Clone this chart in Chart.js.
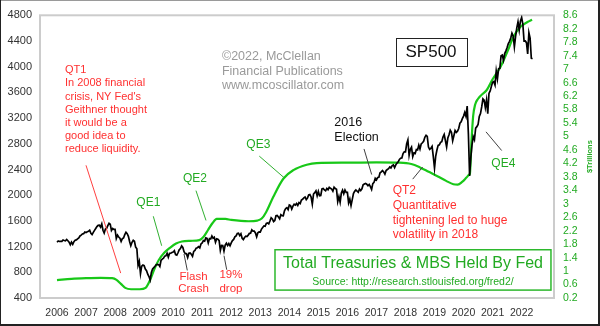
<!DOCTYPE html>
<html><head><meta charset="utf-8">
<script src="https://cdn.jsdelivr.net/npm/chart.js@4"></script>
<style>html,body{margin:0;padding:0;background:#fff;overflow:hidden}canvas{display:block}</style>
</head><body>
<canvas id="c" width="600" height="326"></canvas>
<script>
// ---- DATA ----
// S&P 500, half-month samples: [Jan1, midJan, Feb1, midFeb, ... , Dec1, midDec]
const spxYears = [2006,2007,2008,2009,2010,2011,2012,2013,2014,2015,2016,2017,2018,2019,2020,2021,2022];
const spx2006 = [1268,1287,1280,1280,1281,1303,1295,1290,1311,1291,1270,1230,1270,1236,1277,1298,1304,1320,1336,1366,1378,1396,1401,1427];
const spx2007 = [1418,1431,1438,1456,1407,1387,1421,1452,1482,1512,1531,1533,1503,1553,1455,1411,1474,1484,1527,1562,1549,1452,1481,1467];
const spx2008 = [1468,1326,1379,1349,1331,1280,1323,1334,1386,1423,1400,1360,1280,1214,1267,1298,1283,1192,1166,907,969,780,896,913];
const spx2009 = [903,850,826,770,735,680,798,852,873,893,919,923,919,890,987,1005,1021,1052,1057,1096,1036,1094,1096,1107];
const spx2010 = [1115,1136,1074,1066,1104,1150,1169,1211,1187,1120,1089,1090,1031,1096,1102,1080,1049,1125,1141,1176,1183,1199,1181,1242];
const spx2011 = [1258,1293,1286,1336,1327,1256,1326,1319,1364,1330,1345,1268,1321,1316,1292,1140,1219,1216,1131,1224,1253,1216,1247,1212];
const spx2012 = [1258,1293,1312,1351,1366,1403,1408,1370,1398,1330,1310,1342,1362,1357,1379,1405,1407,1461,1441,1441,1412,1353,1416,1430];
const spx2013 = [1426,1472,1498,1520,1515,1560,1569,1553,1598,1650,1631,1590,1606,1680,1686,1662,1633,1697,1682,1680,1757,1791,1806,1775];
const spx2014 = [1848,1839,1783,1830,1859,1846,1872,1842,1884,1870,1924,1937,1960,1973,1931,1955,2003,2011,1972,1862,2018,2040,2068,1990];
const spx2015 = [2059,1992,1995,2097,2105,2081,2068,2106,2086,2123,2107,2096,2063,2124,2104,2092,1900,1978,1890,2033,2079,2023,2080,2043];
const spx2016 = [2044,1880,1940,1840,1932,2027,2060,2082,2065,2047,2097,2071,2099,2161,2174,2184,2171,2147,2168,2132,2090,2180,2199,2262];
const spx2017 = [2239,2275,2279,2349,2364,2385,2363,2329,2384,2400,2412,2438,2423,2459,2470,2428,2472,2500,2519,2557,2575,2580,2648,2675];
const spx2018 = [2674,2800,2860,2620,2714,2748,2600,2657,2648,2711,2705,2779,2718,2798,2816,2840,2902,2931,2914,2750,2712,2730,2760,2600];
const spx2019 = [2420,2610,2704,2775,2784,2822,2834,2906,2946,2850,2752,2890,2942,3013,2980,2847,2926,3007,2977,2996,3038,3120,3141,3191];
const spx2020 = [3231,3289,3226,3386,2954,2300,2585,2783,2912,2864,3044,3067,3100,3226,3271,3373,3500,3480,3363,3483,3270,3585,3622,3694];
const spx2021 = [3756,3768,3714,3934,3811,3968,3973,4170,4181,4100,4204,4247,4298,4360,4395,4448,4523,4480,4308,4471,4605,4700,4567,4710];
const spx2022 = [4766,4662,4400,4401,4374,4200,4530,4446,4132,4123];
const spxByYear = [spx2006,spx2007,spx2008,spx2009,spx2010,spx2011,spx2012,spx2013,spx2014,spx2015,spx2016,spx2017,spx2018,spx2019,spx2020,spx2021,spx2022];

// Total Treasuries & MBS held by Fed ($ trillions)
const fedDates = [2006.0,2006.5,2007.0,2007.5,2007.9,2008.05,2008.2,2008.35,2008.55,2008.85,2009.05,2009.2,2009.35,2009.5,2009.7,2009.9,2010.1,2010.3,2010.6,2010.9,2011.05,2011.2,2011.35,2011.5,2011.8,2012.0,2012.6,2012.9,2013.05,2013.2,2013.45,2013.8,2014.14,2014.6,2014.94,2016.0,2017.0,2017.8,2018.2,2018.5,2018.8,2019.1,2019.4,2019.65,2019.8,2019.95,2020.1,2020.2,2020.22,2020.27,2020.33,2020.4,2020.5,2020.6,2020.8,2021.0,2021.28,2021.5,2021.72,2021.95,2022.2,2022.36];
const fedTrillions = [0.73,0.77,0.79,0.80,0.79,0.74,0.62,0.50,0.46,0.46,0.50,0.72,1.05,1.32,1.55,1.70,1.82,1.88,1.90,1.92,2.02,2.22,2.42,2.55,2.55,2.52,2.48,2.50,2.56,2.75,3.21,3.75,4.00,4.16,4.21,4.22,4.23,4.22,4.18,4.08,3.95,3.82,3.68,3.58,3.57,3.65,3.78,3.87,3.90,4.80,5.60,5.95,6.12,6.22,6.38,6.70,7.08,7.50,7.96,8.25,8.40,8.47];

// Tick labels
const yearTicks = [2006,2007,2008,2009,2010,2011,2012,2013,2014,2015,2016,2017,2018,2019,2020,2021,2022];
const spxTicks = [400,800,1200,1600,2000,2400,2800,3200,3600,4000,4400,4800];
const fedTicks = [0.2,0.6,1.0,1.4,1.8,2.2,2.6,3.0,3.4,3.8,4.2,4.6,5.0,5.4,5.8,6.2,6.6,7.0,7.4,7.8,8.2,8.6];

// ---- build points ----
const spxPoints = [];
spxByYear.forEach((arr, yi) => arr.forEach((v, i) => spxPoints.push({x: spxYears[yi] + i / 24, y: v})));
const fedPoints = fedDates.map((d, i) => ({x: d, y: fedTrillions[i]}));

// ---- annotations (anchored in data units) ----
const FONT = '"Liberation Sans", Arial, sans-serif';
const RED = '#ff3030', GRN = '#22aa22', DARK = '#404040';
const notes = [
  {at:[2011.68,4156], lines:['©2022, McClellan','Financial Publications','www.mcoscillator.com'], color:'#9a9a9a', size:12.5, lh:14.5, align:'left'},
  {at:[2006.275,3946], lines:['QT1','In 2008 financial','crisis, NY Fed\'s','Geithner thought','it would be a','good idea to','reduce liquidity.'], color:RED, size:11, lh:13.17, align:'left'},
  {at:[2009.144,1879], lines:['QE1'], color:GRN, size:12, lh:14, align:'center'},
  {at:[2010.752,2260], lines:['QE2'], color:GRN, size:12, lh:14, align:'center'},
  {at:[2012.932,2787], lines:['QE3'], color:GRN, size:12, lh:14, align:'center'},
  {at:[2010.70,727], lines:['Flash','Crash'], color:RED, size:11.5, lh:11.8, align:'center'},
  {at:[2011.99,753], lines:['19%','drop'], color:RED, size:11.5, lh:13.3, align:'center'},
  {at:[2015.55,3129], lines:['2016','Election'], color:'#111', size:12.5, lh:14.7, align:'left'},
  {at:[2017.56,2067], lines:['QT2','Quantitative','tightening led to huge','volatility in 2018'], color:RED, size:12, lh:14.7, align:'left'},
  {at:[2021.37,2490], lines:['QE4'], color:GRN, size:12, lh:14, align:'center'},
];
const pointers = [
  {from:[2006.999,2465], to:[2008.193,788], color:'#ff4040'},
  {from:[2009.316,1672], to:[2009.605,1213], color:'#30b030'},
  {from:[2010.786,2071], to:[2011.131,1607], color:'#30b030'},
  {from:[2012.966,2608], to:[2013.827,2270], color:'#30b030'},
  {from:[2010.373,1085], to:[2010.487,829], color:DARK},
  {from:[2011.751,1059], to:[2011.844,840], color:DARK},
  {from:[2016.572,2720], to:[2016.837,2321], color:DARK},
  {from:[2018.249,2250], to:[2018.593,2439], color:DARK},
  {from:[2021.313,2695], to:[2020.773,2986], color:DARK},
];
const spBox = {center:[2018.88,4233], w:71, h:28, text:'SP500', size:17};
const fedBox = {tl:[2013.507,1151], br:[2023.01,523], title:'Total Treasuries & MBS Held By Fed', titleAt:[2018.26,932], source:'Source: http://research.stlouisfed.org/fred2/', sourceAt:[2018.26,650]};

const annot = {
  id: 'annot',
  beforeDraw(chart) {
    const c = chart.ctx; c.save(); c.fillStyle = '#fff'; c.fillRect(0,0,chart.width,chart.height); c.restore();
  },
  beforeDatasetsDraw(chart) {
    const c = chart.ctx, a = chart.chartArea;
    c.save(); c.strokeStyle = '#cccccc'; c.lineWidth = 2;
    c.strokeRect(a.left, a.top, a.right - a.left, a.bottom - a.top);
    c.restore();
  },
  afterDatasetsDraw(chart) {
    const c = chart.ctx, X = chart.scales.x, Y = chart.scales.y;
    const px = p => [X.getPixelForValue(p[0]), Y.getPixelForValue(p[1])];
    c.save();
    c.lineWidth = 1;
    pointers.forEach(p => {
      const a = px(p.from), b = px(p.to);
      c.strokeStyle = p.color; c.beginPath(); c.moveTo(a[0], a[1]); c.lineTo(b[0], b[1]); c.stroke();
    });
    c.textBaseline = 'middle';
    notes.forEach(n => {
      const p = px(n.at);
      c.font = n.size + 'px ' + FONT; c.fillStyle = n.color; c.textAlign = n.align;
      n.lines.forEach((t, i) => c.fillText(t, p[0], p[1] + i * n.lh));
    });
    // SP500 box
    const sc = px(spBox.center);
    c.fillStyle = '#fff'; c.fillRect(sc[0]-spBox.w/2, sc[1]-spBox.h/2, spBox.w, spBox.h);
    c.strokeStyle = '#222'; c.lineWidth = 1;
    c.strokeRect(Math.round(sc[0]-spBox.w/2)+0.5, Math.round(sc[1]-spBox.h/2)+0.5, spBox.w, spBox.h);
    c.fillStyle = '#111'; c.textAlign = 'center'; c.font = spBox.size + 'px ' + FONT;
    c.fillText(spBox.text, sc[0], sc[1] + 1);
    // Fed box
    const tl = px(fedBox.tl), br = px(fedBox.br);
    c.fillStyle = '#fff'; c.fillRect(tl[0], tl[1], br[0]-tl[0], br[1]-tl[1]);
    c.strokeStyle = '#2cb82c'; c.lineWidth = 1.5;
    c.strokeRect(tl[0], tl[1], br[0]-tl[0], br[1]-tl[1]);
    const tp = px(fedBox.titleAt), sp = px(fedBox.sourceAt);
    c.fillStyle = GRN; c.font = '16px ' + FONT; c.fillText(fedBox.title, tp[0], tp[1]);
    c.font = '10.5px ' + FONT; c.fillText(fedBox.source, sp[0], sp[1]);
    c.restore();
  },
  afterDraw(chart) {
    const c = chart.ctx, a = chart.chartArea;
    c.save();
    // right axis title
    c.translate(590, (a.top + a.bottom) / 2);
    c.rotate(-Math.PI / 2);
    c.fillStyle = GRN; c.font = '700 7.5px ' + FONT; c.textAlign = 'center'; c.textBaseline = 'middle';
    c.fillText('$Trillions', 0, 0);
    c.restore();
    // outer frame
    c.save();
    c.fillStyle = '#9a9a9a'; c.fillRect(0, 0, chart.width, 1);
    c.fillStyle = '#222'; c.fillRect(0, 0, 1, chart.height);
    c.fillRect(chart.width - 2, 0, 2, chart.height);
    c.fillRect(0, chart.height - 2, chart.width, 2);
    c.restore();
  }
};

const tickFont = s => ({family: FONT, size: s});
new Chart(document.getElementById('c'), {
  type: 'line',
  data: {
    datasets: [
      {label:'SP500', data: spxPoints, yAxisID:'y', borderColor:'#000', borderWidth:1.7, pointRadius:0, tension:0, fill:false},
      {label:'Fed', data: fedPoints, yAxisID:'y2', borderColor:'#18c818', borderWidth:2.2, pointRadius:0, cubicInterpolationMode:'monotone', fill:false}
    ]
  },
  options: {
    responsive:false, animation:false, devicePixelRatio:1,
    layout:{padding:{top:11, left:0, right:0, bottom:0}},
    plugins:{legend:{display:false}, tooltip:{enabled:false}},
    scales:{
      x:{type:'linear', min:2005.4146, max:2023.1146,
         afterBuildTicks: s => { s.ticks = yearTicks.map(v => ({value:v})); },
         afterFit: s => { s.height = 28; },
         grid:{display:false, drawTicks:false}, border:{display:false},
         ticks:{font:tickFont(10.5), color:'#333', padding:9, maxRotation:0, autoSkip:false, callback: v => String(v)}},
      y:{position:'left', min:400, max:4800,
         afterBuildTicks: s => { s.ticks = spxTicks.map(v => ({value:v})); },
         afterFit: s => { s.width = 40; },
         grid:{display:false, drawTicks:false}, border:{display:false},
         ticks:{font:tickFont(11), color:'#333', padding:8, autoSkip:false, callback: v => String(v)}},
      y2:{position:'right', min:0.2, max:8.6,
         afterBuildTicks: s => { s.ticks = fedTicks.map(v => ({value:v})); },
         afterFit: s => { s.width = 46; },
         grid:{display:false, drawTicks:false}, border:{display:false},
         ticks:{font:tickFont(10.5), color:GRN, padding:9, autoSkip:false, callback: v => String(Number(v.toFixed(1)))}}
    }
  },
  plugins:[annot]
});
</script>
</body></html>
